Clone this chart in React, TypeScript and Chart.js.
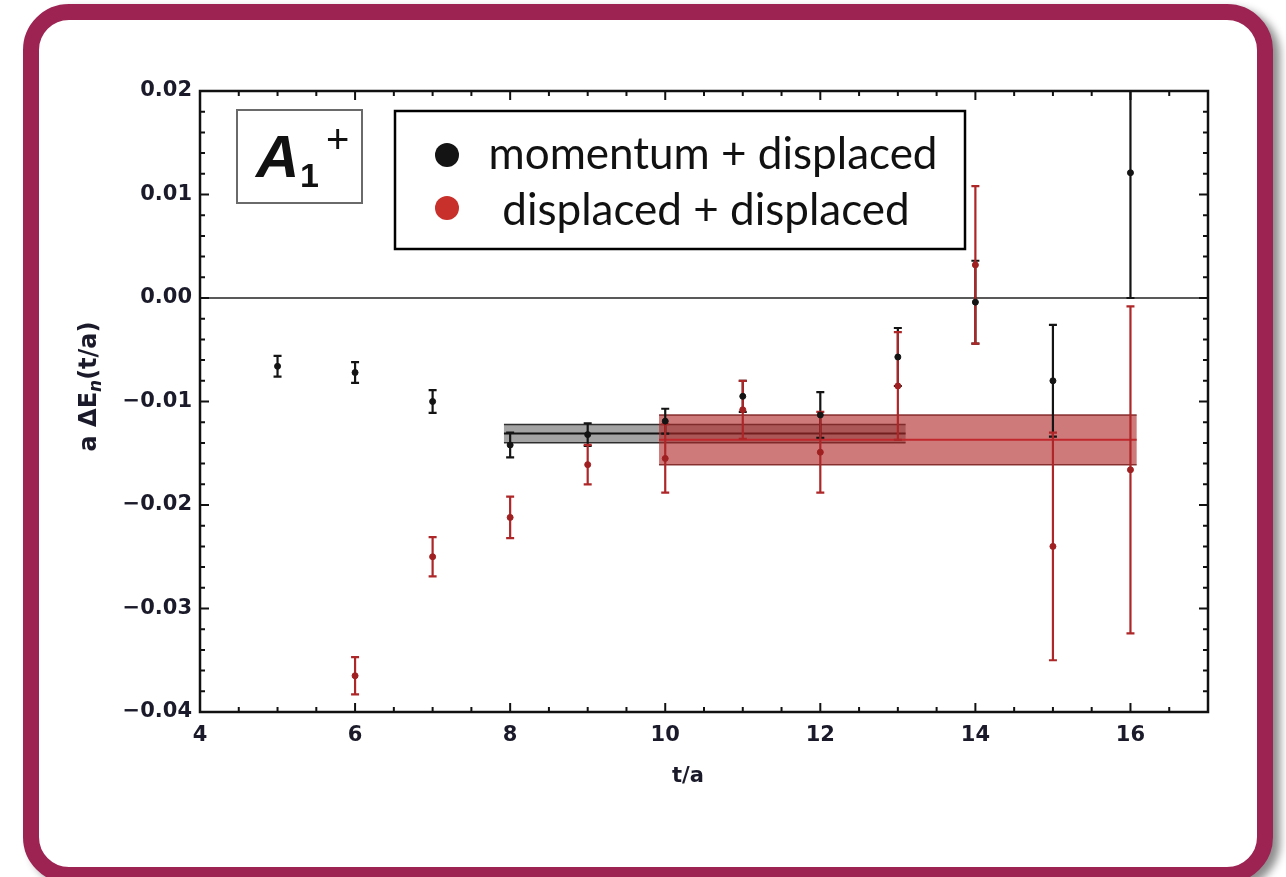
import React, { useEffect, useRef } from "react";
import { Chart, registerables } from "chart.js";

Chart.register(...registerables);

// momentum + displaced
const blackT = [5, 6, 7, 8, 9, 10, 11, 12, 13, 14, 15, 16];
const blackVal = [-0.0066, -0.0072, -0.01, -0.0142, -0.0132, -0.0119, -0.0095, -0.0113, -0.0057, -0.0004, -0.008, 0.0121];
const blackErr = [0.001, 0.001, 0.0011, 0.0012, 0.0011, 0.0012, 0.0015, 0.0022, 0.0028, 0.004, 0.0054, 0.0121];

// displaced + displaced
const redT = [6, 7, 8, 9, 10, 11, 12, 13, 14, 15, 16];
const redVal = [-0.0365, -0.025, -0.0212, -0.0161, -0.0155, -0.0108, -0.0149, -0.0085, 0.0032, -0.024, -0.0166];
const redErr = [0.0018, 0.0019, 0.002, 0.0019, 0.0033, 0.0028, 0.0039, 0.0052, 0.0076, 0.011, 0.0158];

// plateau fits: [tStart, tEnd], central value, half-width
const blackFitRange = [7.92, 13.1];
const blackFitVal = -0.0131;
const blackFitErr = 0.00088;
const redFitRange = [9.92, 16.08];
const redFitVal = -0.0137;
const redFitErr = 0.0024;

const xTicks = [4, 6, 8, 10, 12, 14, 16];
const yTicks = [-0.04, -0.03, -0.02, -0.01, 0, 0.01, 0.02];

const legendLabels = ["momentum + displaced", "displaced + displaced"];

const W = 1286;
const H = 877;
const BLACK = "#141414";
const RED = "#ad2628";
const TICK_FONT = "'DejaVu Sans', sans-serif";

function drawErrorBars(chart: any, ts: number[], vals: number[], errs: number[], color: string) {
  const ctx = chart.ctx;
  const xs = chart.scales.x;
  const ys = chart.scales.y;
  ctx.save();
  ctx.strokeStyle = color;
  ctx.lineWidth = 2.2;
  ts.forEach((t, i) => {
    const x = xs.getPixelForValue(t);
    const y1 = ys.getPixelForValue(vals[i] + errs[i]);
    const y2 = ys.getPixelForValue(vals[i] - errs[i]);
    ctx.beginPath();
    ctx.moveTo(x, y1);
    ctx.lineTo(x, y2);
    ctx.moveTo(x - 4, y1);
    ctx.lineTo(x + 4, y1);
    ctx.moveTo(x - 4, y2);
    ctx.lineTo(x + 4, y2);
    ctx.stroke();
  });
  ctx.restore();
}

function drawBand(chart: any, range: number[], val: number, err: number, fill: string, edge: string, line: string) {
  const ctx = chart.ctx;
  const xs = chart.scales.x;
  const ys = chart.scales.y;
  const x1 = xs.getPixelForValue(range[0]);
  const x2 = xs.getPixelForValue(range[1]);
  const yTop = ys.getPixelForValue(val + err);
  const yBot = ys.getPixelForValue(val - err);
  const yMid = ys.getPixelForValue(val);
  ctx.save();
  ctx.fillStyle = fill;
  ctx.fillRect(x1, yTop, x2 - x1, yBot - yTop);
  ctx.strokeStyle = edge;
  ctx.lineWidth = 1.5;
  ctx.beginPath();
  ctx.moveTo(x1, yTop);
  ctx.lineTo(x2, yTop);
  ctx.moveTo(x1, yBot);
  ctx.lineTo(x2, yBot);
  ctx.stroke();
  ctx.strokeStyle = line;
  ctx.lineWidth = 2;
  ctx.beginPath();
  ctx.moveTo(x1, yMid);
  ctx.lineTo(x2, yMid);
  ctx.stroke();
  ctx.restore();
}

const overlayPlugin = {
  id: "plotDecor",
  beforeDatasetsDraw(chart: any) {
    const ctx = chart.ctx;
    const a = chart.chartArea;
    const ys = chart.scales.y;
    ctx.save();
    ctx.beginPath();
    ctx.rect(a.left, a.top, a.right - a.left, a.bottom - a.top);
    ctx.clip();
    // zero line
    const y0 = ys.getPixelForValue(0);
    ctx.strokeStyle = "#222";
    ctx.lineWidth = 1.5;
    ctx.beginPath();
    ctx.moveTo(a.left, y0);
    ctx.lineTo(a.right, y0);
    ctx.stroke();
    drawBand(chart, blackFitRange, blackFitVal, blackFitErr, "rgba(0,0,0,0.36)", "rgba(30,30,30,0.9)", "#111");
    drawBand(chart, redFitRange, redFitVal, redFitErr, "rgba(178,40,40,0.62)", "rgba(120,25,25,0.85)", "#c0282d");
    drawErrorBars(chart, blackT, blackVal, blackErr, BLACK);
    drawErrorBars(chart, redT, redVal, redErr, RED);
    ctx.restore();
  },
  afterDraw(chart: any) {
    const ctx = chart.ctx;
    const a = chart.chartArea;
    const xs = chart.scales.x;
    const ys = chart.scales.y;
    ctx.save();

    // inward ticks on all four sides
    ctx.strokeStyle = "#111";
    ctx.lineWidth = 2;
    ctx.beginPath();
    for (let i = 0; i <= 26; i++) {
      const v = 4 + i * 0.5;
      const len = i % 4 === 0 ? 9 : 5;
      const x = xs.getPixelForValue(v);
      ctx.moveTo(x, a.bottom);
      ctx.lineTo(x, a.bottom - len);
      ctx.moveTo(x, a.top);
      ctx.lineTo(x, a.top + len);
    }
    for (let j = 0; j <= 30; j++) {
      const v = -0.04 + j * 0.002;
      const len = j % 5 === 0 ? 9 : 5;
      const y = ys.getPixelForValue(v);
      ctx.moveTo(a.left, y);
      ctx.lineTo(a.left + len, y);
      ctx.moveTo(a.right, y);
      ctx.lineTo(a.right - len, y);
    }
    ctx.stroke();

    // plot frame
    ctx.lineWidth = 2.5;
    ctx.strokeRect(a.left, a.top, a.right - a.left, a.bottom - a.top);

    // symmetry channel label
    const bx = a.left + 37;
    const by = a.top + 19;
    ctx.fillStyle = "#fff";
    ctx.fillRect(bx, by, 125, 93);
    ctx.strokeStyle = "#6a6a6a";
    ctx.lineWidth = 2;
    ctx.strokeRect(bx, by, 125, 93);
    ctx.fillStyle = "#111";
    ctx.textBaseline = "alphabetic";
    ctx.textAlign = "left";
    ctx.font = "italic bold 60px 'Liberation Sans', Arial, sans-serif";
    ctx.fillText("A", bx + 19, by + 67);
    ctx.font = "bold 34px 'Liberation Sans', Arial, sans-serif";
    ctx.fillText("1", bx + 63, by + 77);
    ctx.font = "40px 'Liberation Sans', Arial, sans-serif";
    ctx.fillText("+", bx + 89, by + 43);

    // legend
    const lx = a.left + 195;
    const ly = a.top + 20;
    ctx.fillStyle = "#fff";
    ctx.fillRect(lx, ly, 570, 138);
    ctx.strokeStyle = "#000";
    ctx.lineWidth = 2.5;
    ctx.strokeRect(lx, ly, 570, 138);
    const dotColors = [BLACK, "#c8302b"];
    const centers = [lx + 318, lx + 311];
    const baselines = [ly + 58, ly + 114];
    ctx.font = "44px Lato, 'Open Sans', sans-serif";
    ctx.textAlign = "center";
    legendLabels.forEach((lab, i) => {
      ctx.fillStyle = dotColors[i];
      ctx.beginPath();
      ctx.arc(lx + 52, ly + 44 + i * 53, 12, 0, Math.PI * 2);
      ctx.fill();
      ctx.fillStyle = "#111";
      ctx.fillText(lab, centers[i], baselines[i]);
    });

    // axis titles
    ctx.fillStyle = "#1a1a2a";
    ctx.textAlign = "center";
    ctx.font = `bold 21px ${TICK_FONT}`;
    ctx.fillText("t/a", (a.left + a.right) / 2 - 16, a.bottom + 70);

    ctx.translate(96, (a.top + a.bottom) / 2 - 15);
    ctx.rotate(-Math.PI / 2);
    const parts: [string, string, number][] = [
      ["a \u0394E", `bold 24px ${TICK_FONT}`, 0],
      ["n", `italic bold 17px ${TICK_FONT}`, 5],
      ["(t/a)", `bold 24px ${TICK_FONT}`, 0],
    ];
    let total = 0;
    parts.forEach(([s, f]) => {
      ctx.font = f;
      total += ctx.measureText(s).width;
    });
    let cx = -total / 2;
    ctx.textAlign = "left";
    parts.forEach(([s, f, dy]) => {
      ctx.font = f;
      ctx.fillText(s, cx, dy);
      cx += ctx.measureText(s).width;
    });
    ctx.restore();
  },
};

function fmtY(v: number): string {
  const n = Math.round(v * 100) / 100;
  const s = Math.abs(n).toFixed(2);
  return n < 0 ? "\u2212" + s : s;
}

export default function App() {
  const ref = useRef<HTMLCanvasElement | null>(null);

  useEffect(() => {
    if (!ref.current) return;
    const chart = new Chart(ref.current, {
      type: "scatter",
      data: {
        datasets: [
          {
            label: legendLabels[0],
            data: blackT.map((t, i) => ({ x: t, y: blackVal[i] })),
            backgroundColor: BLACK,
            borderColor: BLACK,
            pointRadius: 3,
          },
          {
            label: legendLabels[1],
            data: redT.map((t, i) => ({ x: t, y: redVal[i] })),
            backgroundColor: "#a02022",
            borderColor: "#a02022",
            pointRadius: 3,
          },
        ],
      },
      options: {
        responsive: false,
        animation: false,
        layout: { padding: { left: 70, top: 91, right: 78, bottom: 105 } },
        plugins: { legend: { display: false }, tooltip: { enabled: false } },
        scales: {
          x: {
            type: "linear",
            min: 4,
            max: 17,
            afterFit: (s: any) => {
              s.height = 60;
            },
            afterBuildTicks: (s: any) => {
              s.ticks = xTicks.map((v) => ({ value: v }));
            },
            grid: { display: false, drawTicks: false },
            border: { display: false },
            ticks: {
              padding: 11,
              maxRotation: 0,
              autoSkip: false,
              color: "#1a1a2a",
              font: { family: TICK_FONT, weight: "bold", size: 21 },
            },
          },
          y: {
            type: "linear",
            min: -0.04,
            max: 0.02,
            afterFit: (s: any) => {
              s.width = 130;
            },
            afterBuildTicks: (s: any) => {
              s.ticks = yTicks.map((v) => ({ value: v }));
            },
            grid: { display: false, drawTicks: false },
            border: { display: false },
            ticks: {
              padding: 8,
              autoSkip: false,
              color: "#1a1a2a",
              font: { family: TICK_FONT, weight: "bold", size: 21 },
              callback: (v: any) => fmtY(Number(v)),
            },
          },
        },
      },
      plugins: [overlayPlugin],
    } as any);
    return () => chart.destroy();
  }, []);

  return (
    <div
      style={{
        position: "absolute",
        left: 0,
        top: 0,
        width: W,
        height: H,
        overflow: "hidden",
        background: "#fff",
      }}
    >
      <div
        style={{
          position: "absolute",
          left: 23,
          top: 4,
          width: 1250,
          height: 879,
          boxSizing: "border-box",
          border: "16px solid #9c2352",
          borderRadius: 46,
          background: "#fff",
          boxShadow: "7px 5px 8px rgba(0,0,0,0.45)",
        }}
      />
      <canvas
        ref={ref}
        width={W}
        height={H}
        style={{ position: "absolute", left: 0, top: 0, width: W, height: H }}
      />
    </div>
  );
}
